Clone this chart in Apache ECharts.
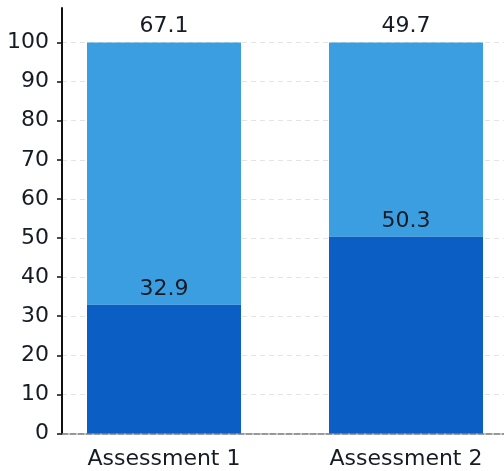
<!DOCTYPE html>
<html>
<head>
<meta charset="utf-8">
<script src="https://cdn.jsdelivr.net/npm/echarts@6/dist/echarts.min.js"></script>
<style>
  html, body { margin: 0; padding: 0; background: #fff; overflow: hidden; }
  /* the plot continues past the right edge of the view */
  #chart { width: 527px; height: 471px; }
</style>
</head>
<body>
<div id="chart"></div>
<script>
// Assessment results: share of the lower and upper band per assessment (percent)
const categories = ['Assessment 1', 'Assessment 2'];
const lowerShare = [32.9, 50.3];
const upperShare = [67.1, 49.7];
const yTicks = [0, 10, 20, 30, 40, 50, 60, 70, 80, 90, 100];

const FONT = 'DejaVu Sans';
const TEXT = '#161b24';
const TOP = 42.5, BOTTOM = 37.5;

const chart = echarts.init(document.getElementById('chart'), null, { renderer: 'canvas' });

chart.setOption({
  animation: false,
  backgroundColor: '#ffffff',
  grid: [
    // bars: category bands
    { left: 43, right: 0, top: TOP, bottom: BOTTOM },
    // visible value scale, gridlines and baseline
    { left: 62, right: 0, top: TOP, bottom: BOTTOM },
    // vertical axis spine running above the top tick
    { left: 62, right: 0, top: 8, bottom: BOTTOM }
  ],
  xAxis: [
    {
      gridIndex: 0, type: 'category', data: categories,
      axisLine: { show: false }, axisTick: { show: false },
      axisLabel: { fontFamily: FONT, fontSize: 22, color: TEXT, margin: 15 }
    },
    {
      gridIndex: 1, type: 'value', min: 0, max: 1,
      axisLine: { show: true, lineStyle: { color: '#7a7a7a', width: 1.5, type: [6, 2] } },
      axisTick: { show: false }, axisLabel: { show: false }, splitLine: { show: false }
    },
    { gridIndex: 2, type: 'value', show: false }
  ],
  yAxis: [
    { gridIndex: 0, type: 'value', min: 0, max: 100, show: false },
    {
      gridIndex: 1, type: 'value', min: yTicks[0], max: yTicks[yTicks.length - 1], interval: 10,
      axisLine: { show: false },
      axisTick: { show: true, inside: false, length: 5, lineStyle: { color: '#111', width: 1.5 } },
      axisLabel: { fontFamily: FONT, fontSize: 22, color: TEXT, margin: 13 },
      splitLine: { show: true, lineStyle: { color: '#e4e4e4', width: 1, type: [5, 4] } }
    },
    {
      gridIndex: 2, type: 'value', min: 0, max: 1,
      axisLine: { show: true, lineStyle: { color: '#111', width: 2 } },
      axisTick: { show: false }, axisLabel: { show: false }, splitLine: { show: false }
    }
  ],
  series: [
    {
      name: 'Lower', type: 'bar', stack: 'total', xAxisIndex: 0, yAxisIndex: 0,
      data: lowerShare, barWidth: 154, z: 3,
      itemStyle: { color: '#0b5ec3' },
      label: { show: true, position: 'top', distance: 5, fontFamily: FONT, fontSize: 22, color: TEXT }
    },
    {
      name: 'Upper', type: 'bar', stack: 'total', xAxisIndex: 0, yAxisIndex: 0,
      data: upperShare, barWidth: 154, z: 2,
      itemStyle: { color: '#3b9ee1' },
      label: { show: true, position: 'top', distance: 5, fontFamily: FONT, fontSize: 22, color: TEXT }
    }
  ]
});
</script>
</body>
</html>
